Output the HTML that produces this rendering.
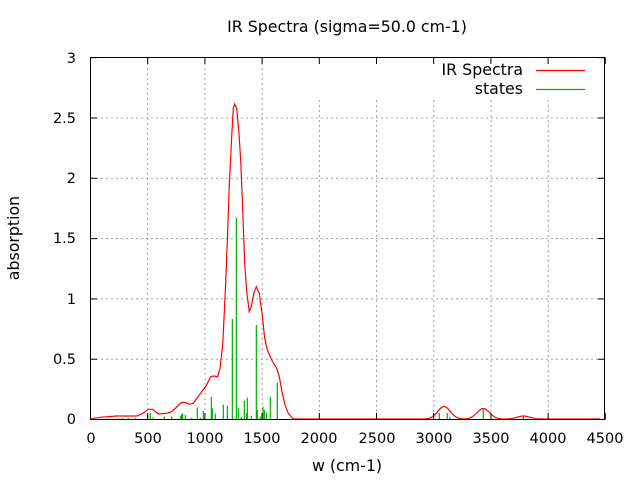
<!DOCTYPE html>
<html><head><style>
body{margin:0;background:#fff;}
svg{display:block;font-family:"DejaVu Sans","Liberation Sans",sans-serif;}
</style></head><body>
<svg id="s" width="640" height="480" xmlns="http://www.w3.org/2000/svg">
<rect width="640" height="480" fill="#fff"/>
<g stroke="#a0a0a0" stroke-dasharray="2,3" stroke-width="1">
<line x1="147.7" y1="58" x2="147.7" y2="419"/>
<line x1="205" y1="58" x2="205" y2="419"/>
<line x1="262.2" y1="58" x2="262.2" y2="419"/>
<line x1="319.4" y1="100" x2="319.4" y2="419"/>
<line x1="376.6" y1="100" x2="376.6" y2="419"/>
<line x1="433.8" y1="100" x2="433.8" y2="419"/>
<line x1="491" y1="100" x2="491" y2="419"/>
<line x1="548.2" y1="100" x2="548.2" y2="419"/>
<line x1="91" y1="359.2" x2="604" y2="359.2"/>
<line x1="91" y1="298.9" x2="604" y2="298.9"/>
<line x1="91" y1="238.6" x2="604" y2="238.6"/>
<line x1="91" y1="178.3" x2="604" y2="178.3"/>
<line x1="91" y1="118" x2="604" y2="118"/>
</g>
<g id="sticks" stroke="#00b000" stroke-width="1.2"></g>
<polyline id="curve" fill="none" stroke="#ff0000" stroke-width="1.2" points=""/>
<g stroke="#000" stroke-width="1">
<rect x="90.5" y="57.5" width="514" height="362" fill="none"/>
</g>
<g id="ticks" stroke="#000" stroke-width="1"></g>
<g font-size="14.5" fill="#000" text-anchor="end">
<text x="76" y="424">0</text>
<text x="76" y="364">0.5</text>
<text x="76" y="304">1</text>
<text x="76" y="243">1.5</text>
<text x="76" y="183">2</text>
<text x="76" y="123">2.5</text>
<text x="76" y="63">3</text>
</g>
<g font-size="14.5" fill="#000" text-anchor="middle">
<text x="91" y="443">0</text>
<text x="148" y="443">500</text>
<text x="205" y="443">1000</text>
<text x="262" y="443">1500</text>
<text x="319" y="443">2000</text>
<text x="377" y="443">2500</text>
<text x="434" y="443">3000</text>
<text x="491" y="443">3500</text>
<text x="548" y="443">4000</text>
<text x="605" y="443">4500</text>
</g>
<g font-size="15.8" fill="#000" text-anchor="middle">
<text x="347" y="32">IR Spectra (sigma=50.0 cm-1)</text>
<text x="347" y="471">w (cm-1)</text>
<text transform="translate(19,238) rotate(-90)">absorption</text>
</g>
<g font-size="15.8" fill="#000" text-anchor="end">
<text x="523" y="75">IR Spectra</text>
<text x="523" y="94">states</text>
</g>
<line x1="536" y1="70.5" x2="585" y2="70.5" stroke="#ff0000" stroke-width="1.2"/>
<line x1="536" y1="89.5" x2="585" y2="89.5" stroke="#00b000" stroke-width="1.2"/>
</svg>
<script>
var pts=[[91,419],[94,418.3],[100,417.3],[116.7,416],[136.7,416],[141.7,414],[148.3,409.3],[152.7,409.3],[158.3,414],[166.7,413.3],[171.7,411.7],[181.7,402.3],[186,402.7],[189.3,404.3],[193.3,403.3],[201.7,391.7],[206,386],[210.7,376.7],[213.3,376],[217.7,376.7],[220,368.3],[222.7,345],[225.3,291.7],[227.3,241.7],[229.3,185],[231.7,136.7],[233.3,108.3],[234.7,104],[236.7,108.3],[238.7,130],[240.7,160],[242.7,210],[244.7,263.3],[246.7,291.7],[249.3,311.7],[251.3,306.7],[254,292.7],[256.3,286.7],[259.3,293.3],[262,313.3],[264.7,338.3],[267.3,350],[271.7,360],[276.7,368.3],[279.3,376.7],[282,391.7],[285,405],[288.3,413.3],[293.3,419]];
var g=[[444,12.5],[483.3,10.5],[523.3,3]];
for(var x=294;x<=600;x+=1.5){var y=0;g.forEach(function(p){y+=p[1]*Math.exp(-Math.pow(x-p[0],2)/(2*6.3*6.3));});pts.push([x,419-y]);}
document.getElementById('curve').setAttribute('points',pts.map(function(p){return p.join(',')}).join(' '));
var st=[[203,975],[211,968],[218,983],[253,980],[275,980],[302,977],[305,973],[308,970],[316,975],[335,983],[352,953],[361,983],[370,963],[394,920],[397,955],[406,971],[430,944],[442,947],[457,687],[469,383],[475,953],[484,980],[493,932],[499,970],[502,923],[514,977],[529,705],[532,960],[541,980],[547,972],[549,950],[553,960],[559,968],[571,920],[592,878],[115,984],[127,984],[145,984],[165,984]];
var h='';st.forEach(function(s){var x=80+s[0]/3,y=90+s[1]/3;h+='<line x1="'+x+'" y1="419" x2="'+x+'" y2="'+y+'"/>';});
[[439.3,413],[447.3,413],[450,417],[483.3,408],[523.3,416]].forEach(function(s){h+='<line x1="'+s[0]+'" y1="419" x2="'+s[0]+'" y2="'+s[1]+'"/>';});
document.getElementById('sticks').innerHTML=h;
var t='';
for(var i=0;i<=9;i++){var x=90.5+i*57.2;t+='<line x1="'+x+'" y1="419.5" x2="'+x+'" y2="413"/><line x1="'+x+'" y1="57.5" x2="'+x+'" y2="64"/>';}
for(var j=0;j<=6;j++){var y=419.5-j*60.3;t+='<line x1="90.5" y1="'+y+'" x2="97" y2="'+y+'"/><line x1="604.5" y1="'+y+'" x2="598" y2="'+y+'"/>';}
document.getElementById('ticks').innerHTML=t;
</script>
</body></html>
